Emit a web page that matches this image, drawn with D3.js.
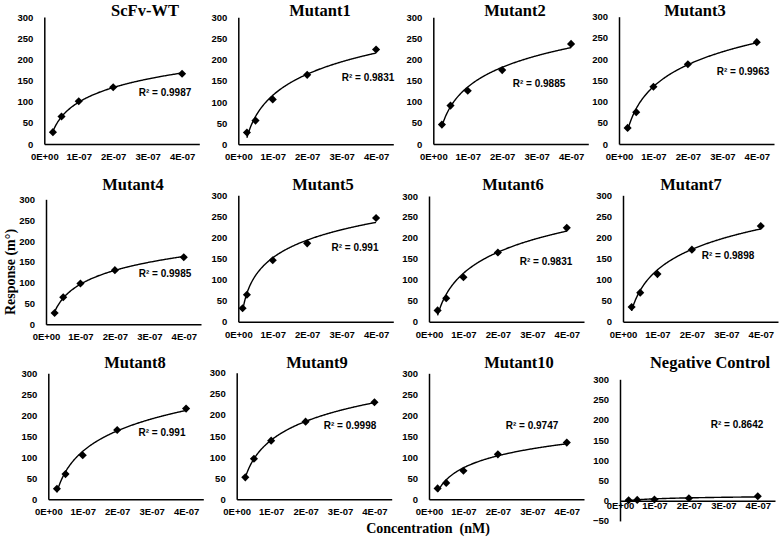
<!DOCTYPE html>
<html><head><meta charset="utf-8">
<script src="https://cdn.jsdelivr.net/npm/d3@7"></script>
<style>body{margin:0;background:#fff}svg{display:block}</style></head>
<body><svg id="chart" width="779" height="538"></svg>
<script>
// ---------- data ----------
const panelTitles = ["ScFv-WT","Mutant1","Mutant2","Mutant3","Mutant4","Mutant5",
  "Mutant6","Mutant7","Mutant8","Mutant9","Mutant10","Negative Control"];
const concentrations = [2.5e-8, 5e-8, 1e-7, 2e-7, 4e-7];
const concentrationsMutant5 = [1.25e-8, 2.5e-8, 1e-7, 2e-7, 4e-7];
const scfvWT     = [28, 65, 101, 134, 166];
const mutant1    = [28, 56, 106, 164, 224];
const mutant2    = [46, 91, 126, 175, 237];
const mutant3    = [38, 75, 135, 188, 240];
const mutant4    = [27, 65, 98, 130, 161];
const mutant5    = [32, 64, 146, 186, 246];
const mutant6    = [27, 56, 106, 165, 224];
const mutant7    = [35, 69, 113, 171, 227];
const mutant8    = [25, 60, 105, 165, 216];
const mutant9    = [52, 96, 139, 184, 230];
const mutant10   = [26, 39, 68, 107, 135];
const negControl = [1, 2, 3, 6, 11];
const r2Values = ["0.9987","0.9831","0.9885","0.9963","0.9985","0.991",
  "0.9831","0.9898","0.991","0.9998","0.9747","0.8642"];
const xTickValues = [0, 1e-7, 2e-7, 3e-7, 4e-7];
const xTickLabels = ["0E+00","1E-07","2E-07","3E-07","4E-07"];
const yTickValues = [0, 50, 100, 150, 200, 250, 300];
const yTickValuesNeg = [-50, 0, 50, 100, 150, 200, 250, 300];
const xAxisTitle = "Concentration  (nM)";
const yAxisTitle = "Response (m°)";

const responses = [scfvWT, mutant1, mutant2, mutant3, mutant4, mutant5,
  mutant6, mutant7, mutant8, mutant9, mutant10, negControl];
const concs = responses.map((d, i) => i === 5 ? concentrationsMutant5 : concentrations);

// ---------- layout (pixel positions) ----------
const layout = [
  {ax:44.3,  y0:144,   yTop:17,    tx:145, ty:15.5, rx:165, ry:92},
  {ax:238.3, y0:144.3, yTop:17.3,  tx:320, ty:15.5, rx:368, ry:77},
  {ax:433.3, y0:144,   yTop:17.3,  tx:515, ty:15.5, rx:539, ry:83},
  {ax:619,   y0:144,   yTop:16.7,  tx:695, ty:15.5, rx:743, ry:71},
  {ax:46,    y0:324.3, yTop:199.3, tx:133, ty:190,  rx:165, ry:273},
  {ax:238.3, y0:321.7, yTop:195.3, tx:323, ty:190,  rx:355, ry:247},
  {ax:429,   y0:321.7, yTop:196,   tx:513, ty:190,  rx:546, ry:261},
  {ax:623,   y0:321.7, yTop:195.3, tx:691, ty:190,  rx:728, ry:255},
  {ax:48.3,  y0:499.3, yTop:373.3, tx:135, ty:368,  rx:162, ry:432},
  {ax:236.7, y0:499.3, yTop:372.7, tx:317, ty:368,  rx:350, ry:425},
  {ax:429,   y0:499.3, yTop:373.3, tx:519, ty:368,  rx:532, ry:425},
  {ax:620,   y0:500.7, yTop:379.3, tx:710, ty:368,  rx:737, ry:424, neg:true}
];
const plotW = 155;
const serif = "'Liberation Serif','Times New Roman',serif";
const sans = "'Liberation Sans',Arial,sans-serif";

const svg = d3.select("#chart");
svg.append("rect").attr("width",779).attr("height",538).attr("fill","#fff");

function logFit(xs, ys) {
  const lx = xs.map(Math.log);
  const mx = d3.mean(lx), my = d3.mean(ys);
  const a = d3.sum(lx, (v, i) => (v - mx) * (ys[i] - my)) / d3.sum(lx, v => (v - mx) ** 2);
  return x => a * Math.log(x) + (my - a * mx);
}

responses.forEach((ys, i) => {
  const L = layout[i];
  const xs = concs[i];
  const g = svg.append("g");
  const x = d3.scaleLinear().domain([0, 4.5e-7]).range([L.ax, L.ax + plotW]);
  let y;
  if (L.neg) {
    const per = (L.y0 - L.yTop) / 300;
    y = d3.scaleLinear().domain([-50, 300]).range([L.y0 + 50 * per, L.yTop]);
  } else {
    y = d3.scaleLinear().domain([0, 300]).range([L.y0, L.yTop]);
  }
  // y axis
  const ya = g.append("g").attr("transform", `translate(${L.ax},0)`)
    .call(d3.axisLeft(y).tickValues(L.neg ? yTickValuesNeg : yTickValues)
      .tickSize(0).tickPadding(11));
  // x axis
  const xa = g.append("g").attr("transform", `translate(0,${y(0)})`)
    .call(d3.axisBottom(x).tickValues(xTickValues).tickFormat((d, k) => xTickLabels[k])
      .tickSize(0).tickPadding(L.neg ? 2 : 9.4));
  [ya, xa].forEach(a => {
    a.select(".domain").attr("stroke", "#000").attr("stroke-width", 1.5);
    a.selectAll("text").attr("font-family", sans).attr("font-weight", "bold")
      .attr("font-size", 9.5).attr("fill", "#000");
  });
  // trendline
  const f = logFit(xs, ys);
  const xmin = d3.min(xs), xmax = d3.max(xs);
  const samples = d3.range(0, 201).map(k => xmin + (xmax - xmin) * k / 200);
  g.append("path").datum(samples)
    .attr("d", d3.line().x(d => x(d)).y(d => y(f(d))))
    .attr("fill", "none").attr("stroke", "#000").attr("stroke-width", 1.4);
  // markers
  g.selectAll("path.pt").data(ys).join("path").attr("class", "pt")
    .attr("d", d3.symbol().type(d3.symbolDiamond2).size(42))
    .attr("transform", (d, k) => `translate(${x(xs[k])},${y(d)})`)
    .attr("fill", "#000");
  // title
  g.append("text").attr("x", L.tx).attr("y", L.ty).attr("text-anchor", "middle")
    .attr("font-family", serif).attr("font-weight", "bold").attr("font-size", 16.5)
    .text(panelTitles[i]);
  // R2
  g.append("text").attr("x", L.rx).attr("y", L.ry).attr("text-anchor", "middle")
    .attr("dominant-baseline", "central")
    .attr("font-family", sans).attr("font-weight", "bold").attr("font-size", 10)
    .text("R² = " + r2Values[i]);
});

svg.append("text").attr("transform", "translate(15,272) rotate(-90)")
  .attr("text-anchor", "middle").attr("font-family", serif).attr("font-weight", "bold")
  .attr("font-size", 14).text(yAxisTitle);
svg.append("text").attr("x", 428).attr("y", 533).attr("text-anchor", "middle")
  .attr("font-family", serif).attr("font-weight", "bold").attr("font-size", 14)
  .attr("xml:space", "preserve").style("white-space", "pre").text(xAxisTitle);
</script></body></html>
